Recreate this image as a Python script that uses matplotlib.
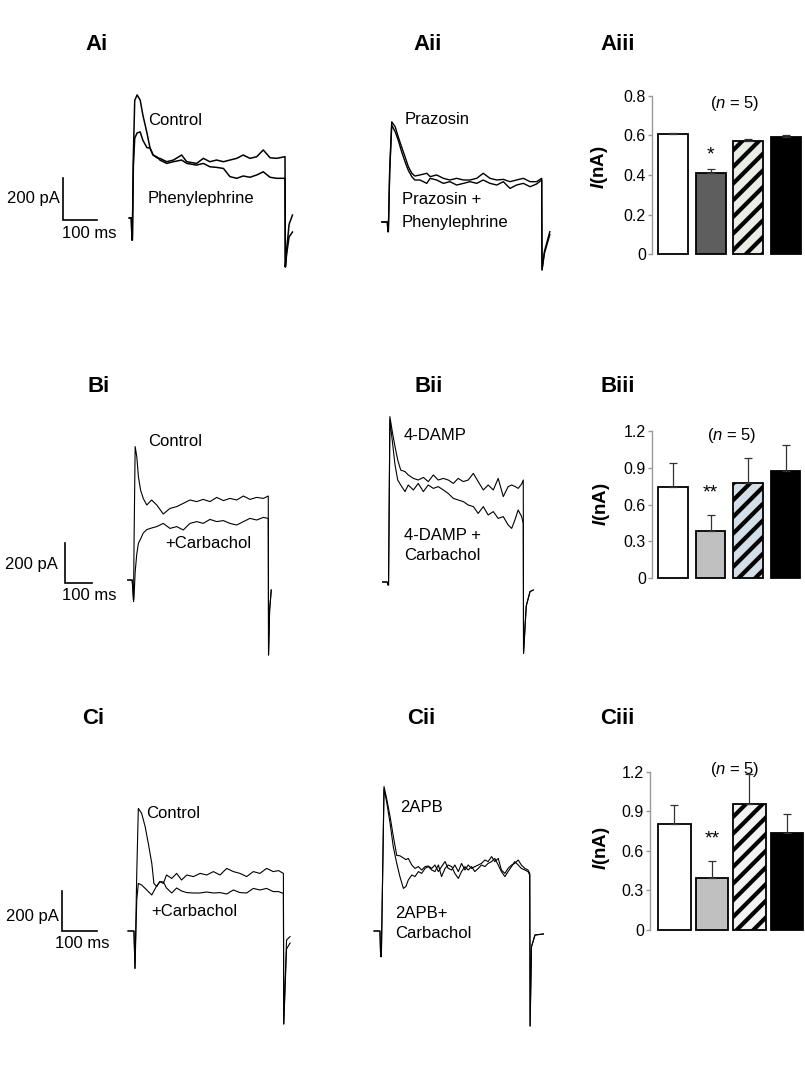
import matplotlib.pyplot as plt
import numpy as np

plt.rcParams['font.family'] = ['Liberation Sans', 'DejaVu Sans']
plt.rcParams['mathtext.fontset'] = 'custom'
plt.rcParams['mathtext.rm'] = 'Liberation Sans'
plt.rcParams['mathtext.it'] = 'Liberation Sans:italic'
plt.rcParams['mathtext.bf'] = 'Liberation Sans:bold'
plt.rcParams['mathtext.bfit'] = 'Liberation Sans:bold:italic'
plt.rcParams['hatch.linewidth'] = 3.0

W, H = 805, 1084

# ---- current traces (time in ms, current in pA) ----
ai_t = [-8, -2, 0, 1, 4, 8, 15, 24, 32, 44, 53, 62, 74, 82, 102, 122, 146, 161, 190, 210,
        229, 249, 269, 288, 308, 327, 347, 367, 386, 406, 425, 450, 451, 455, 462, 472]
ai_control = [0, 0, -105, -105, 300, 560, 586, 562, 490, 405, 333, 300, 286, 284, 268, 276, 300, 268, 260, 284,
              268, 276, 268, 276, 284, 300, 284, 292, 324, 287, 284, 292, -233, -150, -30, 14]
ai_phenyl = [0, 0, -105, -105, 250, 380, 405, 410, 370, 335, 333, 300, 290, 276, 260, 268, 276, 260, 252, 260,
             244, 241, 236, 197, 189, 200, 194, 205, 220, 194, 189, 189, -233, -170, -90, -67]

aii_t = [-18, -2, 0, 1, 5, 11, 21, 30, 40, 50, 60, 70, 79, 94, 114, 124, 143, 163, 182, 202,
         222, 241, 261, 280, 300, 320, 339, 359, 378, 398, 418, 437, 452, 453, 460, 476]
aii_prazosin = [0, 0, -46, -46, 250, 477, 454, 406, 358, 311, 263, 232, 219, 224, 232, 216, 224, 208, 200, 208,
                200, 200, 208, 232, 208, 200, 203, 192, 200, 208, 192, 192, 208, -228, -140, -46]
aii_praz_pe = [0, 0, -46, -46, 240, 461, 430, 390, 335, 287, 245, 216, 200, 200, 184, 208, 200, 184, 192, 176,
               184, 192, 184, 200, 184, 176, 192, 160, 176, 184, 168, 181, 200, -228, -150, -60]

bi_t = [-20, -3, 0, 2, 4, 8, 14, 20, 28, 38, 51, 69, 88, 112, 137, 162, 186, 211, 236, 260,
        285, 310, 335, 359, 384, 409, 433, 458, 483, 501, 502, 506, 512]
bi_control = [0, 0, -60, -100, 200, 667, 617, 517, 450, 408, 375, 400, 375, 330, 358, 367, 383, 400, 392, 403,
              392, 413, 397, 408, 400, 420, 403, 413, 408, 420, -375, -150, -50]
bi_carbachol = [0, 0, -60, -108, -80, 40, 130, 183, 205, 235, 252, 260, 267, 283, 258, 267, 250, 283, 292, 283,
                303, 292, 297, 283, 275, 292, 308, 300, 313, 308, -375, -150, -50]

bii_t = [-20, -3, 0, 2, 7, 17, 26, 36, 47, 63, 75, 94, 112, 131, 149, 168, 186, 205, 223, 242,
         260, 279, 297, 316, 334, 353, 371, 390, 408, 427, 445, 458, 470, 482, 495, 501, 502, 512, 526, 538]
bii_damp = [0, 0, -15, -15, 827, 743, 677, 610, 560, 552, 535, 518, 510, 523, 502, 535, 510, 518, 510, 493,
            518, 502, 510, 543, 502, 460, 485, 460, 518, 427, 477, 485, 478, 468, 490, 510, -357, -120, -48, -40]
bii_damp_cch = [0, 0, -15, -15, 810, 693, 585, 510, 485, 452, 485, 460, 493, 452, 485, 468, 477, 460, 443, 418,
                410, 402, 385, 377, 343, 377, 335, 352, 318, 327, 285, 268, 310, 360, 327, 293, -357, -120, -48, -40]

ci_t = [-20, -3, 0, 5, 9.5, 19, 29, 38, 48, 54, 62, 71, 81, 90, 105, 119, 133, 148, 167, 186,
        205, 224, 243, 262, 281, 300, 319, 338, 357, 376, 395, 410, 424, 425, 433, 443]
ci_control = [0, 0, -187, 288, 613, 588, 522, 438, 338, 238, 222, 247, 238, 280, 263, 288, 255, 280, 272, 288,
              280, 297, 280, 313, 297, 288, 272, 297, 288, 313, 297, 302, 288, -465, -45, -28]
ci_carbachol = [0, 0, -187, 155, 238, 230, 213, 197, 180, 200, 225, 247, 245, 215, 190, 215, 200, 192, 190, 190,
                195, 190, 192, 185, 205, 192, 190, 213, 205, 213, 197, 197, 188, -465, -90, -60]

cii_t = [-20, -3, -1, 1, 8.6, 16, 26, 35, 45, 54, 64, 71, 78, 88, 97, 107, 116, 126, 135, 145,
         154, 164, 173, 183, 192, 202, 211, 221, 230, 240, 249, 259, 268, 278, 287, 297, 306, 316, 325, 335,
         344, 354, 363, 373, 382, 392, 401, 411, 420, 425, 426, 430, 440, 464]
cii_2apb = [0, 0, -128, -128, 722, 663, 572, 475, 378, 376, 365, 357, 363, 330, 313, 322, 305, 322, 325, 313,
            330, 297, 322, 347, 313, 305, 330, 297, 338, 305, 330, 313, 322, 330, 338, 355, 347, 372, 347, 363,
            305, 288, 313, 330, 338, 355, 330, 313, 305, 288, -475, -78, -20, -15]
cii_2apb_cch = [0, 0, -128, -128, 710, 647, 538, 422, 338, 272, 213, 222, 255, 280, 272, 297, 288, 313, 322, 305,
                297, 330, 272, 313, 330, 322, 288, 263, 297, 322, 305, 322, 297, 313, 330, 322, 338, 347, 363, 330,
                297, 272, 297, 322, 347, 330, 313, 305, 297, 280, -475, -78, -20, -15]

# ---- summary bars (nA) ----
aiii_mean = [0.607, 0.409, 0.571, 0.590]
aiii_err = [0.006, 0.020, 0.011, 0.012]
biii_mean = [0.745, 0.384, 0.780, 0.873]
biii_err = [0.195, 0.130, 0.197, 0.217]
ciii_mean = [0.800, 0.395, 0.957, 0.737]
ciii_err = [0.150, 0.130, 0.223, 0.143]

fig = plt.figure(figsize=(W / 100, H / 100), dpi=100)


def px(x, y):
    return x / W, 1 - y / H


def label(x, y, s, size=12, **kw):
    fig.text(*px(x, y), s, fontsize=size, va='center', **kw)


def trace_axes(box, x0, y0, ms_px, pa_px):
    # box in pixels (left, top, right, bottom); (x0, y0) = pixel of t=0, I=0
    L, T, R, B = box
    ax = fig.add_axes([L / W, 1 - B / H, (R - L) / W, (B - T) / H])
    ax.set_xlim((L - x0) * 100 / ms_px, (R - x0) * 100 / ms_px)
    ax.set_ylim((y0 - B) * 200 / pa_px, (y0 - T) * 200 / pa_px)
    ax.axis('off')
    return ax


def scale_bar(ax, t, i, lw=1.2):
    ax.plot([t, t, t + 100], [i + 200, i, i], color='black', lw=lw, solid_joinstyle='miter')


# A row
ax = trace_axes((0, 60, 320, 300), 132, 218, 34, 42)
ax.plot(ai_t, ai_control, color='black', lw=1.1)
ax.plot(ai_t, ai_phenyl, color='black', lw=1.1)
scale_bar(ax, -203, -9.5)
label(60, 198, '200 pA', ha='right')
label(62, 233, '100 ms')
label(148, 120, 'Control')
label(148, 198, 'Phenylephrine')

ax = trace_axes((330, 60, 580, 300), 388, 222, 34, 42)
ax.plot(aii_t, aii_prazosin, color='black', lw=1.0)
ax.plot(aii_t, aii_praz_pe, color='black', lw=1.0)
label(405, 119, 'Prazosin')
label(402, 199, 'Prazosin +')
label(402, 222, 'Phenylephrine')

# B row
ax = trace_axes((0, 400, 320, 690), 133, 580, 27, 40)
ax.plot(bi_t, bi_control, color='black', lw=0.8)
ax.plot(bi_t, bi_carbachol, color='black', lw=0.8)
scale_bar(ax, -252, -15)
label(58, 565, '200 pA', ha='right')
label(62, 595, '100 ms')
label(148, 441, 'Control')
label(165, 543, '+Carbachol')

ax = trace_axes((330, 400, 580, 690), 388, 582, 27, 40)
ax.plot(bii_t, bii_damp, color='black', lw=0.8)
ax.plot(bii_t, bii_damp_cch, color='black', lw=0.8)
label(404, 435, '4-DAMP')
label(404, 535, '4-DAMP +')
label(404, 555, 'Carbachol')

# C row
ax = trace_axes((0, 740, 320, 1060), 135, 931, 35, 40)
ax.plot(ci_t, ci_control, color='black', lw=0.8)
ax.plot(ci_t, ci_carbachol, color='black', lw=0.8)
scale_bar(ax, -209, 0)
label(59, 917, '200 pA', ha='right')
label(55, 944, '100 ms')
label(146, 813, 'Control')
label(151, 912, '+Carbachol')

ax = trace_axes((330, 740, 580, 1060), 381, 931, 35, 40)
ax.plot(cii_t, cii_2apb, color='black', lw=0.8)
ax.plot(cii_t, cii_2apb_cch, color='black', lw=0.8)
label(400, 807, '2APB')
label(395, 913, '2APB+')
label(395, 933, 'Carbachol')


def bar_panel(box, means, errs, colors, ymax, ticks, xlo, width, stars, star_y, n_pos, ylab_xy):
    L, T, R, B = box
    ax = fig.add_axes([L / W, 1 - B / H, (R - L) / W, (B - T) / H])
    x = np.arange(4)
    bars = ax.bar(x, means, width=width, color=colors, edgecolor='black', linewidth=1.3,
                  yerr=[np.zeros(4), errs],
                  error_kw=dict(ecolor='#333333', elinewidth=0.9, capsize=3, capthick=0.9),
                  clip_on=False, zorder=2)
    bars[2].set_hatch('//')
    ax.set_xlim(xlo, xlo + 4.0 + (R - L - 150) / 37.5)
    ax.set_ylim(0, ymax)
    ax.set_yticks(ticks)
    ax.set_yticklabels(['0'] + ['%g' % v for v in ticks[1:]])
    ax.set_xticks([])
    for s in ['top', 'right', 'bottom']:
        ax.spines[s].set_visible(False)
    ax.spines['left'].set_color('#999999')
    ax.spines['left'].set_linewidth(1.0)
    ax.tick_params(axis='y', colors='#999999', labelcolor='black', labelsize=11.5, length=3, width=1.0, pad=1.5)
    ax.text(1, star_y, stars, ha='center', va='center', fontsize=14)
    ax.text(n_pos[0], n_pos[1], '($\\it{n}$ = 5)', ha='center', va='center', fontsize=12)
    ax.set_ylabel('$\\mathbfit{I}$(nA)', fontsize=13.5, fontweight='bold')
    ax.yaxis.set_label_coords(*ylab_xy)
    return ax


bar_panel((652, 95.7, 802, 254.3), aiii_mean, aiii_err, ['white', '#5e5e5e', '#e9ede6', 'black'],
          0.8, [0, 0.2, 0.4, 0.6, 0.8], -0.56, 0.8, '*', 0.50, (1.65, 0.763), (-0.28, 0.55))
bar_panel((652, 431, 802, 578.3), biii_mean, biii_err, ['white', '#c0c0c0', '#d3dee6', 'black'],
          1.2, [0, 0.3, 0.6, 0.9, 1.2], -0.56, 0.78, '**', 0.695, (1.57, 1.167), (-0.27, 0.5))
bar_panel((650, 771.7, 804, 930), ciii_mean, ciii_err, ['white', '#c0c0c0', '#f3f3f3', 'black'],
          1.2, [0, 0.3, 0.6, 0.9, 1.2], -0.65, 0.86, '**', 0.69, (1.61, 1.213), (-0.25, 0.52))

# panel letters
for x, y, s in [(85, 44, 'Ai'), (413, 44, 'Aii'), (600, 44, 'Aiii'),
                (87, 386, 'Bi'), (414, 386, 'Bii'), (600, 386, 'Biii'),
                (82, 719, 'Ci'), (407, 719, 'Cii'), (600, 719, 'Ciii')]:
    label(x, y, s, size=16, fontweight='bold')

fig.savefig('out.png', dpi=100)
